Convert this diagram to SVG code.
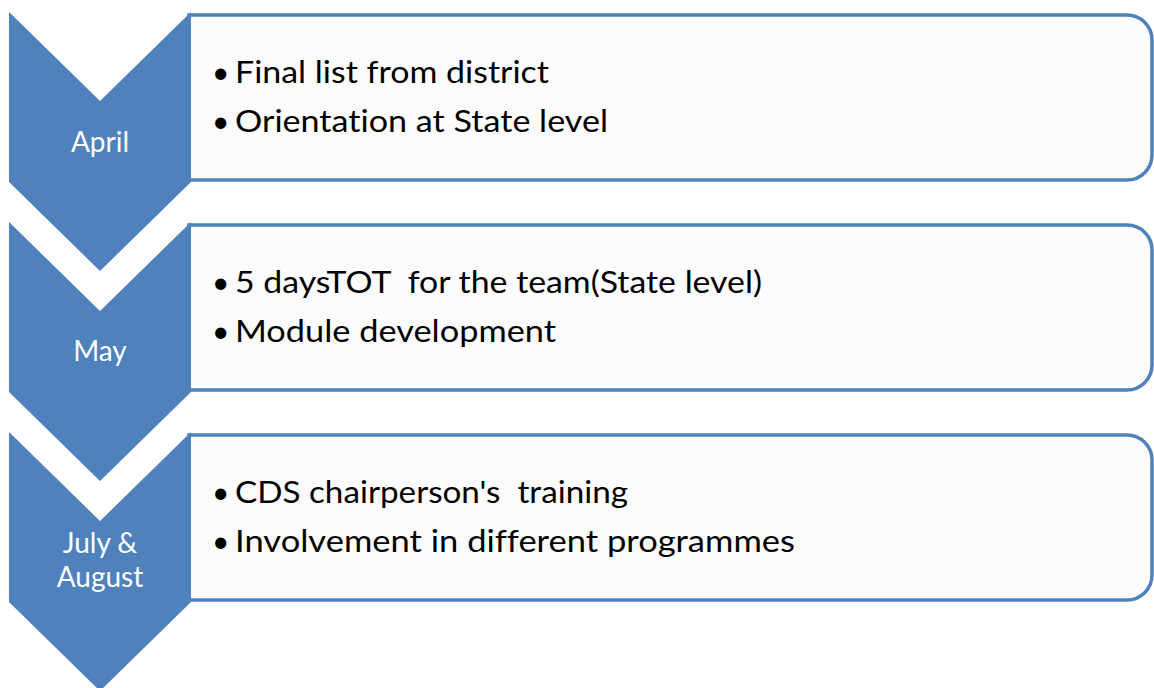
<svg xmlns="http://www.w3.org/2000/svg" width="1154" height="688" viewBox="0 0 1154 688">
  <style>
    .box { fill: #fcfcfc; stroke: #4f81bd; stroke-width: 3.5; }
    .chev { fill: #4f81bd; }
    .month { font-family: Lato, "Open Sans", "Liberation Sans", sans-serif; font-size: 28px; fill: #ffffff; text-anchor: middle; font-variant-ligatures: none; }
    .item { font-family: Lato, "Open Sans", "Liberation Sans", sans-serif; font-size: 30px; fill: #000000; font-variant-ligatures: none; }
  </style>
  <rect width="1154" height="688" fill="#ffffff"/>

  <g id="april">
    <path class="box" d="M189,15 H1127 A25,25 0 0 1 1152,40 V155 A25,25 0 0 1 1127,180 H189 Z"/>
    <path class="chev" d="M9,12 L100,101 L191,12 L191,182 L100,271 L9,182 Z"/>
    <text class="month" x="100" y="152">April</text>
    <text class="item" x="212" y="83">•</text>
    <text class="item" x="235" y="83" textLength="314" lengthAdjust="spacingAndGlyphs">Final list from district</text>
    <text class="item" x="212" y="132">•</text>
    <text class="item" x="235" y="132" textLength="373" lengthAdjust="spacingAndGlyphs">Orientation at State level</text>
  </g>

  <g id="may">
    <path class="box" d="M189,225 H1127 A25,25 0 0 1 1152,250 V365 A25,25 0 0 1 1127,390 H189 Z"/>
    <path class="chev" d="M9,222 L100,311 L191,222 L191,392 L100,481 L9,392 Z"/>
    <text class="month" x="100" y="361">May</text>
    <text class="item" x="212" y="293">•</text>
    <text class="item" x="235" y="293" textLength="527" lengthAdjust="spacingAndGlyphs" xml:space="preserve">5 daysTOT  for the team(State level)</text>
    <text class="item" x="212" y="342">•</text>
    <text class="item" x="235" y="342" textLength="321" lengthAdjust="spacingAndGlyphs">Module development</text>
  </g>

  <g id="july-august">
    <path class="box" d="M189,435 H1127 A25,25 0 0 1 1152,460 V575 A25,25 0 0 1 1127,600 H189 Z"/>
    <path class="chev" d="M9,432 L100,521 L191,432 L191,602 L100,691 L9,602 Z"/>
    <text class="month" x="100" y="553">July &amp;</text>
    <text class="month" x="100" y="587">August</text>
    <text class="item" x="212" y="503">•</text>
    <text class="item" x="235" y="503" textLength="393" lengthAdjust="spacingAndGlyphs" xml:space="preserve">CDS chairperson's  training</text>
    <text class="item" x="212" y="552">•</text>
    <text class="item" x="235" y="552" textLength="560" lengthAdjust="spacingAndGlyphs">Involvement in different programmes</text>
  </g>

  <g id="connectors"></g>
</svg>
